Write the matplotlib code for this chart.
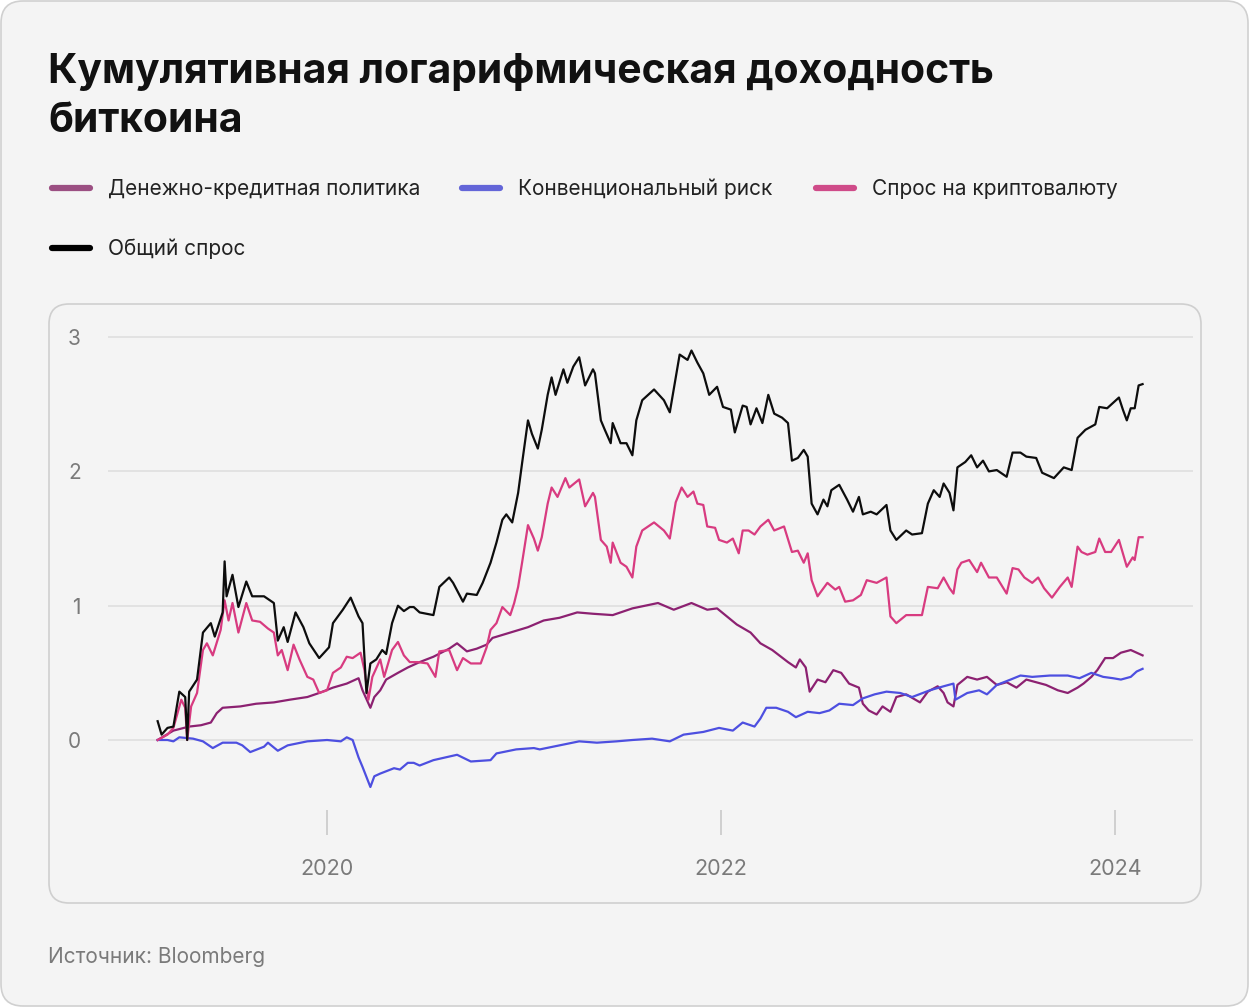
import matplotlib
matplotlib.use("Agg")
import matplotlib.pyplot as plt
from matplotlib.patches import FancyBboxPatch

plt.rcParams['font.family'] = ['Inter', 'DejaVu Sans']

# Values (decimal years, cumulative log return)
general_x = [2019.14, 2019.16, 2019.19, 2019.22, 2019.25, 2019.28, 2019.29, 2019.30, 2019.34, 2019.37,
             2019.41, 2019.43, 2019.47, 2019.48, 2019.49, 2019.52, 2019.55, 2019.59, 2019.62, 2019.68,
             2019.73, 2019.75, 2019.78, 2019.80, 2019.84, 2019.88, 2019.91, 2019.96, 2020.01, 2020.03,
             2020.08, 2020.12, 2020.16, 2020.18, 2020.20, 2020.22, 2020.25, 2020.28, 2020.30, 2020.33,
             2020.36, 2020.39, 2020.42, 2020.44, 2020.47, 2020.54, 2020.57, 2020.62, 2020.64, 2020.69,
             2020.71, 2020.76, 2020.79, 2020.83, 2020.86, 2020.89, 2020.91, 2020.94, 2020.97, 2020.99,
             2021.02, 2021.04, 2021.07, 2021.09, 2021.12, 2021.14, 2021.16, 2021.20, 2021.22, 2021.25,
             2021.28, 2021.31, 2021.35, 2021.36, 2021.39, 2021.41, 2021.44, 2021.45, 2021.49, 2021.52,
             2021.55, 2021.57, 2021.60, 2021.66, 2021.71, 2021.74, 2021.77, 2021.79, 2021.83, 2021.85,
             2021.88, 2021.91, 2021.94, 2021.98, 2022.01, 2022.05, 2022.07, 2022.11, 2022.13, 2022.15,
             2022.18, 2022.21, 2022.24, 2022.27, 2022.31, 2022.34, 2022.36, 2022.39, 2022.42, 2022.44,
             2022.46, 2022.49, 2022.52, 2022.54, 2022.56, 2022.60, 2022.64, 2022.67, 2022.70, 2022.72,
             2022.76, 2022.79, 2022.84, 2022.86, 2022.89, 2022.94, 2022.97, 2023.02, 2023.05, 2023.08,
             2023.11, 2023.13, 2023.16, 2023.18, 2023.20, 2023.24, 2023.27, 2023.30, 2023.33, 2023.36,
             2023.40, 2023.45, 2023.48, 2023.52, 2023.55, 2023.60, 2023.63, 2023.69, 2023.74, 2023.78,
             2023.81, 2023.85, 2023.90, 2023.92, 2023.96, 2024.02, 2024.04, 2024.06, 2024.08, 2024.10,
             2024.12, 2024.14]
general_y = [0.14, 0.04, 0.09, 0.10, 0.36, 0.32, 0.00, 0.36, 0.45, 0.80,
             0.87, 0.77, 0.95, 1.33, 1.07, 1.23, 0.99, 1.18, 1.07, 1.07,
             1.02, 0.74, 0.84, 0.73, 0.95, 0.84, 0.72, 0.61, 0.69, 0.87,
             0.97, 1.06, 0.92, 0.87, 0.35, 0.57, 0.60, 0.67, 0.64, 0.87,
             1.00, 0.96, 0.99, 0.99, 0.95, 0.93, 1.14, 1.21, 1.17, 1.03,
             1.09, 1.08, 1.17, 1.32, 1.47, 1.64, 1.68, 1.62, 1.84, 2.06,
             2.38, 2.28, 2.17, 2.31, 2.57, 2.70, 2.57, 2.76, 2.66, 2.78,
             2.85, 2.64, 2.76, 2.73, 2.38, 2.31, 2.21, 2.36, 2.21, 2.21,
             2.12, 2.38, 2.53, 2.61, 2.53, 2.44, 2.70, 2.87, 2.83, 2.90,
             2.81, 2.73, 2.57, 2.63, 2.48, 2.46, 2.29, 2.49, 2.48, 2.35,
             2.47, 2.36, 2.57, 2.43, 2.40, 2.36, 2.08, 2.10, 2.16, 2.11,
             1.76, 1.68, 1.79, 1.74, 1.86, 1.90, 1.79, 1.70, 1.81, 1.68,
             1.70, 1.68, 1.75, 1.56, 1.49, 1.56, 1.53, 1.54, 1.76, 1.86,
             1.81, 1.91, 1.84, 1.71, 2.03, 2.07, 2.12, 2.03, 2.08, 2.00,
             2.01, 1.96, 2.14, 2.14, 2.11, 2.10, 1.99, 1.95, 2.03, 2.01,
             2.25, 2.31, 2.35, 2.48, 2.47, 2.55, 2.46, 2.38, 2.47, 2.47,
             2.64, 2.65]

crypto_x = [2019.14, 2019.19, 2019.22, 2019.26, 2019.28, 2019.29, 2019.31, 2019.34, 2019.37, 2019.39,
            2019.42, 2019.46, 2019.48, 2019.50, 2019.52, 2019.55, 2019.59, 2019.62, 2019.66, 2019.70,
            2019.73, 2019.75, 2019.77, 2019.80, 2019.83, 2019.86, 2019.90, 2019.93, 2019.96, 2020.00,
            2020.03, 2020.07, 2020.10, 2020.13, 2020.17, 2020.19, 2020.21, 2020.23, 2020.27, 2020.29,
            2020.33, 2020.36, 2020.39, 2020.42, 2020.46, 2020.51, 2020.55, 2020.57, 2020.62, 2020.66,
            2020.69, 2020.73, 2020.78, 2020.81, 2020.83, 2020.86, 2020.89, 2020.93, 2020.95, 2020.97,
            2020.99, 2021.02, 2021.05, 2021.07, 2021.09, 2021.12, 2021.14, 2021.17, 2021.21, 2021.23,
            2021.28, 2021.31, 2021.35, 2021.36, 2021.39, 2021.42, 2021.44, 2021.45, 2021.49, 2021.52,
            2021.55, 2021.57, 2021.60, 2021.66, 2021.71, 2021.74, 2021.77, 2021.80, 2021.83, 2021.86,
            2021.88, 2021.91, 2021.93, 2021.97, 2021.99, 2022.03, 2022.06, 2022.09, 2022.11, 2022.14,
            2022.17, 2022.20, 2022.24, 2022.27, 2022.32, 2022.36, 2022.39, 2022.42, 2022.44, 2022.46,
            2022.49, 2022.54, 2022.58, 2022.60, 2022.63, 2022.67, 2022.71, 2022.74, 2022.79, 2022.84,
            2022.86, 2022.89, 2022.94, 2023.02, 2023.05, 2023.10, 2023.13, 2023.16, 2023.18, 2023.20,
            2023.22, 2023.26, 2023.30, 2023.32, 2023.36, 2023.40, 2023.45, 2023.48, 2023.51, 2023.54,
            2023.58, 2023.61, 2023.64, 2023.68, 2023.72, 2023.76, 2023.78, 2023.81, 2023.83, 2023.86,
            2023.90, 2023.92, 2023.95, 2023.98, 2024.02, 2024.06, 2024.09, 2024.10, 2024.12, 2024.14]
crypto_y = [0.00, 0.04, 0.09, 0.30, 0.24, 0.00, 0.25, 0.35, 0.67, 0.72,
            0.63, 0.82, 1.04, 0.89, 1.02, 0.80, 1.02, 0.89, 0.88, 0.83,
            0.80, 0.63, 0.67, 0.52, 0.71, 0.60, 0.47, 0.45, 0.35, 0.37,
            0.50, 0.54, 0.62, 0.61, 0.65, 0.52, 0.30, 0.47, 0.60, 0.47,
            0.67, 0.73, 0.63, 0.58, 0.58, 0.57, 0.47, 0.66, 0.67, 0.52,
            0.61, 0.57, 0.57, 0.69, 0.82, 0.87, 0.99, 0.93, 1.02, 1.14,
            1.32, 1.60, 1.50, 1.41, 1.51, 1.76, 1.88, 1.81, 1.95, 1.88,
            1.94, 1.74, 1.84, 1.81, 1.49, 1.44, 1.32, 1.47, 1.32, 1.29,
            1.21, 1.44, 1.56, 1.62, 1.56, 1.50, 1.77, 1.88, 1.81, 1.85,
            1.76, 1.75, 1.59, 1.58, 1.49, 1.47, 1.50, 1.39, 1.56, 1.56,
            1.53, 1.59, 1.64, 1.56, 1.59, 1.40, 1.41, 1.32, 1.39, 1.19,
            1.07, 1.17, 1.12, 1.14, 1.03, 1.04, 1.08, 1.19, 1.17, 1.21,
            0.92, 0.87, 0.93, 0.93, 1.14, 1.13, 1.21, 1.13, 1.09, 1.27,
            1.32, 1.34, 1.25, 1.32, 1.21, 1.21, 1.09, 1.28, 1.27, 1.21,
            1.17, 1.21, 1.13, 1.06, 1.14, 1.21, 1.14, 1.44, 1.40, 1.38,
            1.40, 1.50, 1.40, 1.40, 1.49, 1.29, 1.36, 1.34, 1.51, 1.51]

monetary_x = [2019.14, 2019.22, 2019.30, 2019.36, 2019.41, 2019.44, 2019.47, 2019.56, 2019.64, 2019.73,
              2019.81, 2019.90, 2019.96, 2020.03, 2020.10, 2020.16, 2020.18, 2020.22, 2020.24, 2020.27,
              2020.30, 2020.36, 2020.41, 2020.47, 2020.54, 2020.62, 2020.66, 2020.71, 2020.76, 2020.81,
              2020.84, 2020.93, 2021.02, 2021.10, 2021.18, 2021.27, 2021.35, 2021.45, 2021.55, 2021.68,
              2021.76, 2021.85, 2021.93, 2021.98, 2022.03, 2022.08, 2022.15, 2022.20, 2022.26, 2022.34,
              2022.38, 2022.40, 2022.43, 2022.45, 2022.49, 2022.53, 2022.57, 2022.61, 2022.65, 2022.70,
              2022.72, 2022.75, 2022.79, 2022.82, 2022.86, 2022.89, 2022.94, 2023.01, 2023.05, 2023.10,
              2023.13, 2023.15, 2023.18, 2023.20, 2023.25, 2023.30, 2023.35, 2023.40, 2023.45, 2023.50,
              2023.55, 2023.60, 2023.65, 2023.71, 2023.76, 2023.81, 2023.84, 2023.88, 2023.91, 2023.95,
              2023.99, 2024.03, 2024.08, 2024.11, 2024.14]
monetary_y = [0.00, 0.07, 0.10, 0.11, 0.13, 0.20, 0.24, 0.25, 0.27, 0.28,
              0.30, 0.32, 0.35, 0.39, 0.42, 0.46, 0.37, 0.24, 0.32, 0.37,
              0.45, 0.50, 0.54, 0.58, 0.62, 0.68, 0.72, 0.66, 0.68, 0.71,
              0.76, 0.80, 0.84, 0.89, 0.91, 0.95, 0.94, 0.93, 0.98, 1.02,
              0.97, 1.02, 0.97, 0.98, 0.92, 0.86, 0.80, 0.72, 0.67, 0.58,
              0.54, 0.60, 0.54, 0.36, 0.45, 0.43, 0.52, 0.50, 0.42, 0.39,
              0.27, 0.22, 0.19, 0.25, 0.21, 0.32, 0.34, 0.28, 0.36, 0.40,
              0.35, 0.28, 0.25, 0.41, 0.47, 0.45, 0.47, 0.41, 0.43, 0.39,
              0.45, 0.43, 0.41, 0.37, 0.35, 0.39, 0.42, 0.47, 0.52, 0.61,
              0.61, 0.65, 0.67, 0.65, 0.63]

risk_x = [2019.14, 2019.19, 2019.22, 2019.25, 2019.32, 2019.37, 2019.42, 2019.47, 2019.54, 2019.57,
          2019.61, 2019.68, 2019.70, 2019.75, 2019.80, 2019.90, 2020.00, 2020.07, 2020.10, 2020.13,
          2020.16, 2020.18, 2020.22, 2020.24, 2020.27, 2020.34, 2020.37, 2020.41, 2020.44, 2020.47,
          2020.54, 2020.66, 2020.73, 2020.83, 2020.86, 2020.96, 2021.05, 2021.08, 2021.18, 2021.28,
          2021.37, 2021.47, 2021.55, 2021.65, 2021.74, 2021.81, 2021.91, 2021.99, 2022.06, 2022.11,
          2022.17, 2022.20, 2022.23, 2022.28, 2022.34, 2022.38, 2022.44, 2022.50, 2022.55, 2022.60,
          2022.67, 2022.72, 2022.78, 2022.84, 2022.91, 2022.97, 2023.06, 2023.13, 2023.18, 2023.19,
          2023.25, 2023.31, 2023.35, 2023.40, 2023.47, 2023.52, 2023.58, 2023.67, 2023.76, 2023.82,
          2023.88, 2023.94, 2023.99, 2024.03, 2024.08, 2024.11, 2024.14]
risk_y = [0.00, 0.00, -0.01, 0.02, 0.01, -0.01, -0.06, -0.02, -0.02, -0.04,
          -0.09, -0.05, -0.02, -0.08, -0.04, -0.01, 0.00, -0.01, 0.02, 0.00,
          -0.13, -0.20, -0.35, -0.27, -0.25, -0.21, -0.22, -0.17, -0.17, -0.19,
          -0.15, -0.11, -0.16, -0.15, -0.10, -0.07, -0.06, -0.07, -0.04, -0.01,
          -0.02, -0.01, 0.00, 0.01, -0.01, 0.04, 0.06, 0.09, 0.07, 0.13,
          0.10, 0.16, 0.24, 0.24, 0.21, 0.17, 0.21, 0.20, 0.22, 0.27,
          0.26, 0.31, 0.34, 0.36, 0.35, 0.32, 0.37, 0.40, 0.42, 0.30,
          0.35, 0.37, 0.34, 0.41, 0.45, 0.48, 0.47, 0.48, 0.48, 0.46,
          0.50, 0.47, 0.46, 0.45, 0.47, 0.51, 0.53]

series_names = ['Денежно-кредитная политика', 'Конвенциональный риск',
                'Спрос на криптовалюту', 'Общий спрос']
line_colors = ['#8c2171', '#4d4fe0', '#d83b80', '#0d0d0d']
legend_colors = ['#9b4f82', '#6365d8', '#cf4b89', '#000000']
year_ticks = [2020, 2022, 2024]
value_ticks = [0, 1, 2, 3]

W, H = 1250, 1008
fig = plt.figure(figsize=(W / 100, H / 100), dpi=100, facecolor='white')

# background layer in pixel coordinates
bg = fig.add_axes([0, 0, 1, 1], zorder=0)
bg.set_xlim(0, W)
bg.set_ylim(H, 0)
bg.axis('off')
bg.add_patch(FancyBboxPatch((1, 1), W - 3, H - 3, boxstyle='round,pad=0,rounding_size=22',
                            fc='#f4f4f4', ec='#d0d0d0', lw=1.2))
bg.add_patch(FancyBboxPatch((49, 304), 1152, 599, boxstyle='round,pad=0,rounding_size=20',
                            fc='#f4f4f4', ec='#cfcfcf', lw=1.2))

bg.text(48, 83, 'Кумулятивная логарифмическая доходность', fontsize=29.4, fontweight='bold',
        color='#111111', va='baseline')
bg.text(48, 132, 'биткоина', fontsize=29.4, fontweight='bold', color='#111111', va='baseline')

legend_pos = [(49, 188), (459, 188), (813, 188), (49, 248)]
for (lx, ly), name, col in zip(legend_pos, series_names, legend_colors):
    bg.plot([lx + 3, lx + 41], [ly, ly], color=col, lw=4.5, solid_capstyle='round')
    bg.text(lx + 59, ly + 1, name, fontsize=15, color='#222222', va='center')

bg.text(48, 957, 'Источник: Bloomberg', fontsize=15, color='#7a7a7a', va='center')

# main chart
ax_left, ax_right, ax_top, ax_bottom = 108, 1193, 330, 810
ax = fig.add_axes([ax_left / W, 1 - ax_bottom / H, (ax_right - ax_left) / W,
                   (ax_bottom - ax_top) / H], zorder=1)
ax.set_facecolor('none')

data = [(monetary_x, monetary_y), (risk_x, risk_y), (crypto_x, crypto_y), (general_x, general_y)]
for (xs, ys), col in zip(data, line_colors):
    ax.plot(xs, ys, color=col, lw=1.6, solid_joinstyle='round')

ax.set_xlim(2018.888, 2024.396)
ax.set_ylim((740 - ax_bottom) / 134.3, (740 - ax_top) / 134.3)
ax.set_yticks(value_ticks)
ax.set_yticklabels([str(v) for v in value_ticks])
ax.set_xticks(year_ticks)
ax.set_xticklabels([str(y) for y in year_ticks])
ax.yaxis.grid(True, color='#e1e1e1', lw=1.3)
ax.set_axisbelow(True)
for s in ax.spines.values():
    s.set_visible(False)
ax.tick_params(axis='y', length=0, pad=19.5, labelsize=15, labelcolor='#7a7a7a')
ax.tick_params(axis='x', length=18, width=1.1, color='#c6c6c6', pad=17,
               labelsize=15.5, labelcolor='#7a7a7a')

fig.savefig('out.png', dpi=100, facecolor='white')
